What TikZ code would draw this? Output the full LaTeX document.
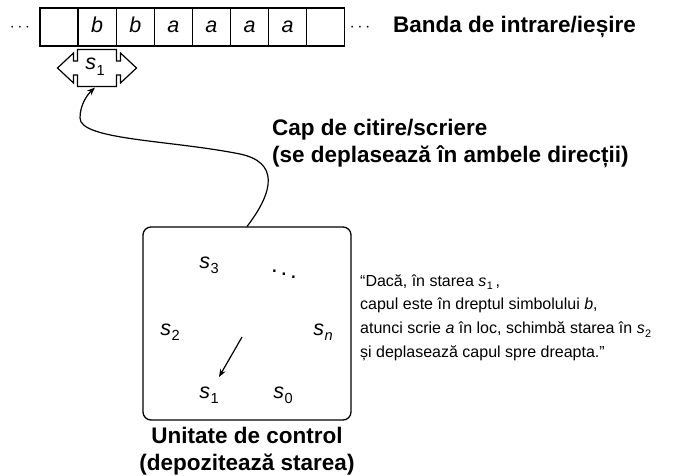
\documentclass[tikz,border=0pt]{standalone}
\usepackage{fontspec}
\setmainfont{Liberation Sans}
\usetikzlibrary{arrows.meta,calc}
\newcommand{\stv}[2]{\textit{#1}\kern0.02em\raisebox{-0.24em}{\scalebox{0.68}{#2}}}
\begin{document}
\begin{tikzpicture}[x=1pt,y=-1pt,
  cell/.style={draw, line width=1.3pt, minimum width=38.1pt, minimum height=38pt, inner sep=0pt,
    text height=14pt, text depth=2pt, font=\fontsize{21.5}{21.5}\selectfont\itshape},
  bigl/.style={font=\fontsize{22.5}{27}\selectfont\bfseries, inner sep=0pt},
  st/.style={font=\fontsize{21.5}{21.5}\selectfont, inner sep=0pt, anchor=base},
  arr/.style={line width=1.2pt, -{Stealth[length=8pt,width=6pt]}},
  dotsn/.style={font=\fontsize{17}{17}\selectfont, inner sep=0pt, anchor=base},
  quote/.style={font=\fontsize{16}{23.7}\selectfont, align=left, inner sep=0pt, anchor=west}]
\useasboundingbox (0,0) rectangle (682,476);

% tape
\foreach \i/\t in {0/{},1/b,2/b,3/a,4/a,5/a,6/a,7/{}} {
  \node[cell] (c\i) at ({40+38.1*(\i+0.5)},27) {\t};
}
\node[dotsn] (ld) at (20,31.3) {$\cdots$};
\node[dotsn] (rd) at (360,31.3) {$\cdots$};
\node[bigl, anchor=west] (banda) at (393,27) {Banda de intrare/ieșire};

% head
\coordinate (hc) at (97,68);
\draw[line width=1.2pt, line join=miter] ($(hc)+(-19.5,-18.5)$) -- ($(hc)+(19.5,-18.5)$) -- ($(hc)+(19.5,-7)$)
  -- ($(hc)+(23.5,-7)$) -- ($(hc)+(23.5,-15)$) -- ($(hc)+(39.5,0)$) -- ($(hc)+(23.5,15)$) -- ($(hc)+(23.5,7)$)
  -- ($(hc)+(19.5,7)$) -- ($(hc)+(19.5,18.5)$) -- ($(hc)+(-19.5,18.5)$) -- ($(hc)+(-19.5,7)$)
  -- ($(hc)+(-23.5,7)$) -- ($(hc)+(-23.5,15)$) -- ($(hc)+(-39.5,0)$) -- ($(hc)+(-23.5,-15)$) -- ($(hc)+(-23.5,-7)$)
  -- ($(hc)+(-19.5,-7)$) -- cycle;
\node[st] (head) at (95,70) {\stv{s}{1}};
\coordinate (headb) at (95,87.5);

% control unit
\node[draw, line width=1.3pt, rounded corners=8pt, minimum width=208pt, minimum height=193pt] (cu) at (247,323.5) {};
\coordinate (cstart) at (247,226.5);
\coordinate (cb) at (240,154);
\coordinate (cc) at (80,118);
\draw[arr] (cstart) .. controls (275,190) and (278,162) .. (cb)
  .. controls (170,140) and (80,140) .. (cc)
  .. controls (80,104) and (88,94) .. (headb);

\node[st] (s3) at (209,268) {\stv{s}{3}};
\node[font=\fontsize{24}{24}\selectfont, inner sep=0pt] (dd) at (284,271) {$\ddots$};
\node[st] (s2) at (170,335) {\stv{s}{2}};
\node[st] (sn) at (323,335) {\stv{s}{\textit{n}}};
\node[st] (s1) at (209,398) {\stv{s}{1}};
\node[st] (s0) at (283,398) {\stv{s}{0}};
\coordinate (af) at (242,337);
\coordinate (at) at (219,377);
\draw[arr] (af) -- (at);

\node[bigl, align=center] (cul) at (247,451) {Unitate de control\\(depozitează starea)};
\node[bigl, align=left, anchor=west] (capl) at (272,143.5) {Cap de citire/scriere\\(se deplasează în ambele direcții)};

\node[quote] (q) at (360,317.5) {“Dacă, în starea \stv{s}{1}\,,\\capul este în dreptul simbolului \textit{b},\\atunci scrie \textit{a} în loc, schimbă starea în \stv{s}{2}\\și deplasează capul spre dreapta.”};
\end{tikzpicture}
\end{document}
